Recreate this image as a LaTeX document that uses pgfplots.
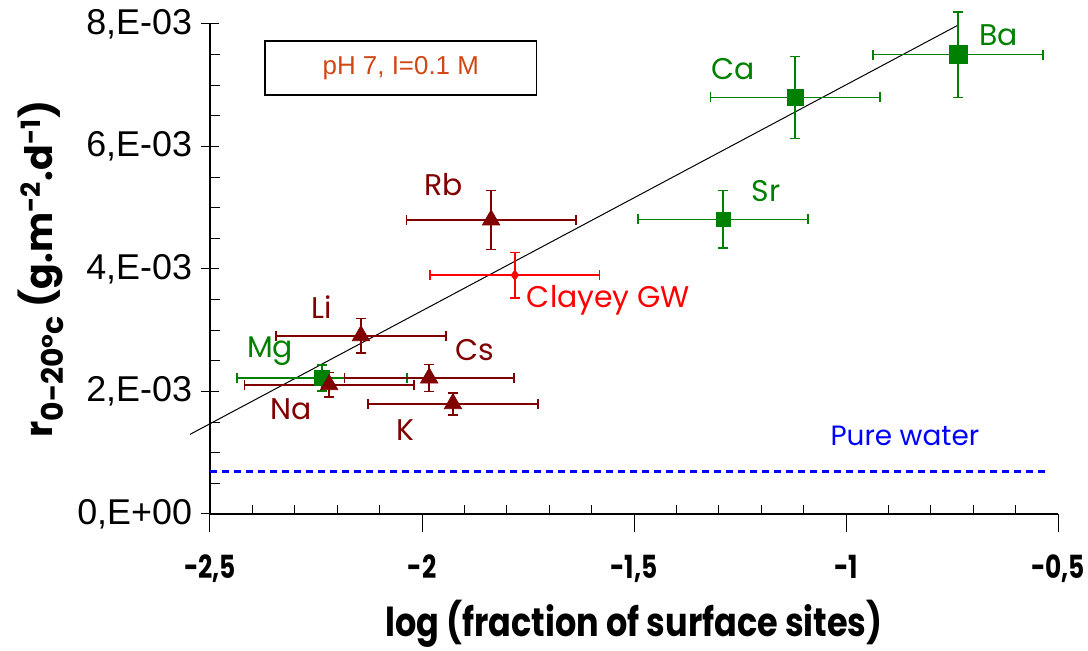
\documentclass[border=0pt]{standalone}
\usepackage{fontspec}
\usepackage{pgfplots}
\pgfplotsset{compat=1.18}
\setmainfont{Liberation Sans}
\newfontfamily\comic{Poppins}
\newfontfamily\comicc{Poppins}[FakeStretch=0.78]
\newfontfamily\comicl{Poppins}[FakeStretch=0.84]
\definecolor{grn}{RGB}{0,128,0}
\definecolor{mar}{RGB}{128,0,0}
\definecolor{boxtxt}{RGB}{208,70,20}

\begin{document}
\begin{tikzpicture}
\begin{axis}[
  scale only axis,
  width=424bp, height=245bp,
  xmin=-2.5, xmax=-0.5,
  ymin=0, ymax=0.008,
  clip=false,
  axis x line=bottom, axis y line=left,
  axis line style={-, black, line width=0.6bp},
  xtick={-2.5,-2,-1.5,-1,-0.5},
  xticklabels={{-2,5},{-2},{-1,5},{-1},{-0,5}},
  minor x tick num=4,
  ytick={0,0.002,0.004,0.006,0.008},
  yticklabels={{0,E+00},{2,E-03},{4,E-03},{6,E-03},{8,E-03}},
  minor y tick num=3,
  scaled y ticks=false,
  xtick align=outside,
  ytick align=center,
  major tick length=9bp,
  minor tick length=5bp,
  tick style={black, line width=0.5bp},
  minor x tick style={yshift=4.5bp},
  minor y tick style={xshift=2.5bp},
  xticklabel style={font=\fontsize{16}{16}\selectfont\comicc\bfseries, yshift=-8bp},
  yticklabel style={font=\fontsize{18}{18}\selectfont, xshift=-1bp},
  xlabel={\comicl\bfseries log (fraction of surface sites)},
  xlabel style={font=\fontsize{20}{20}\selectfont, yshift=-2bp},
  ylabel={\comic\bfseries r\textsubscript{\fontsize{15}{15}\selectfont 0-20°c} (g.m\textsuperscript{-2}.d\textsuperscript{-1})},
  ylabel style={font=\fontsize{19}{19}\selectfont, yshift=0bp},
  error bars/x dir=both, error bars/x explicit,
  error bars/y dir=both, error bars/y explicit,
  error bars/error mark options={rotate=90, mark size=2.5bp, line width=0.8bp},
  error bars/error bar style={line width=0.8bp},
]
% fitted line
\addplot[black, line width=0.5bp] coordinates {(-2.547,0.00130) (-0.736,0.00798)};
% pure water
\addplot[blue, line width=1.4bp, dash pattern=on 3.5bp off 2.5bp] coordinates {(-2.5,0.0007) (-0.52,0.0007)};
% alkaline earth metals
\addplot[grn, mark=square*, mark size=4.5bp, only marks, mark options={grn}]
  coordinates {(-0.736,0.00750) +- (0.2,0.0007)};
\addplot[grn, mark=square*, mark size=4bp, only marks, mark options={grn}]
  coordinates {(-1.120,0.00680) +- (0.2,0.00067)};
\addplot[grn, mark=square*, mark size=3.5bp, only marks, mark options={grn}]
  coordinates {(-1.290,0.00481) +- (0.2,0.00047)};
\addplot[grn, mark=square*, mark size=3.8bp, only marks, mark options={grn}]
  coordinates {(-2.236,0.00222) +- (0.2,0.00021)};
% alkali metals
\addplot[mar, mark=triangle*, mark size=5bp, only marks, mark options={mar}]
  coordinates {
  (-1.837,0.00480) +- (0.2,0.00048)
  (-2.144,0.00291) +- (0.2,0.00028)
  (-2.219,0.00211) +- (0.2,0.00020)
  (-1.983,0.00222) +- (0.2,0.00022)
  (-1.927,0.00180) +- (0.2,0.00018)
  };
% clayey groundwater
\addplot[red, mark=diamond*, mark size=2.5bp, only marks, mark options={red}]
  coordinates {(-1.781,0.00390) +- (0.2,0.00037)};

\coordinate (sw) at (rel axis cs:0,0);
\coordinate (ne) at (rel axis cs:1,1);

\begin{scope}[font=\fontsize{15}{15}\selectfont\comic]
\node[grn] at (axis cs:-0.64,0.00781) {Ba};
\node[grn] at (axis cs:-1.266,0.00727) {Ca};
\node[grn] at (axis cs:-1.189,0.00527) {Sr};
\node[grn] at (axis cs:-2.358,0.00266) {Mg};
\node[mar] at (axis cs:-1.95,0.00537) {Rb};
\node[mar] at (axis cs:-2.236,0.00338) {Li};
\node[mar] at (axis cs:-2.309,0.00171) {Na};
\node[mar] at (axis cs:-1.875,0.00268) {Cs};
\node[mar] at (axis cs:-2.038,0.00137) {K};
\node[red] at (axis cs:-1.56,0.00349) {Clayey GW};
\end{scope}
\node[blue, font=\fontsize{14}{14}\selectfont\comic] at (axis cs:-0.861,0.00127) {Pure water};
\node[draw=black, line width=0.8bp, minimum width=135.5bp, minimum height=27bp,
  text=boxtxt, font=\fontsize{13}{13}\selectfont] at (axis cs:-2.05,0.00728) {pH 7, I=0.1 M};
\end{axis}
\pgfresetboundingbox
\path ([shift={(-105bp,-68.5bp)}]sw) rectangle ([shift={(15bp,12bp)}]ne);
\end{tikzpicture}
\end{document}
